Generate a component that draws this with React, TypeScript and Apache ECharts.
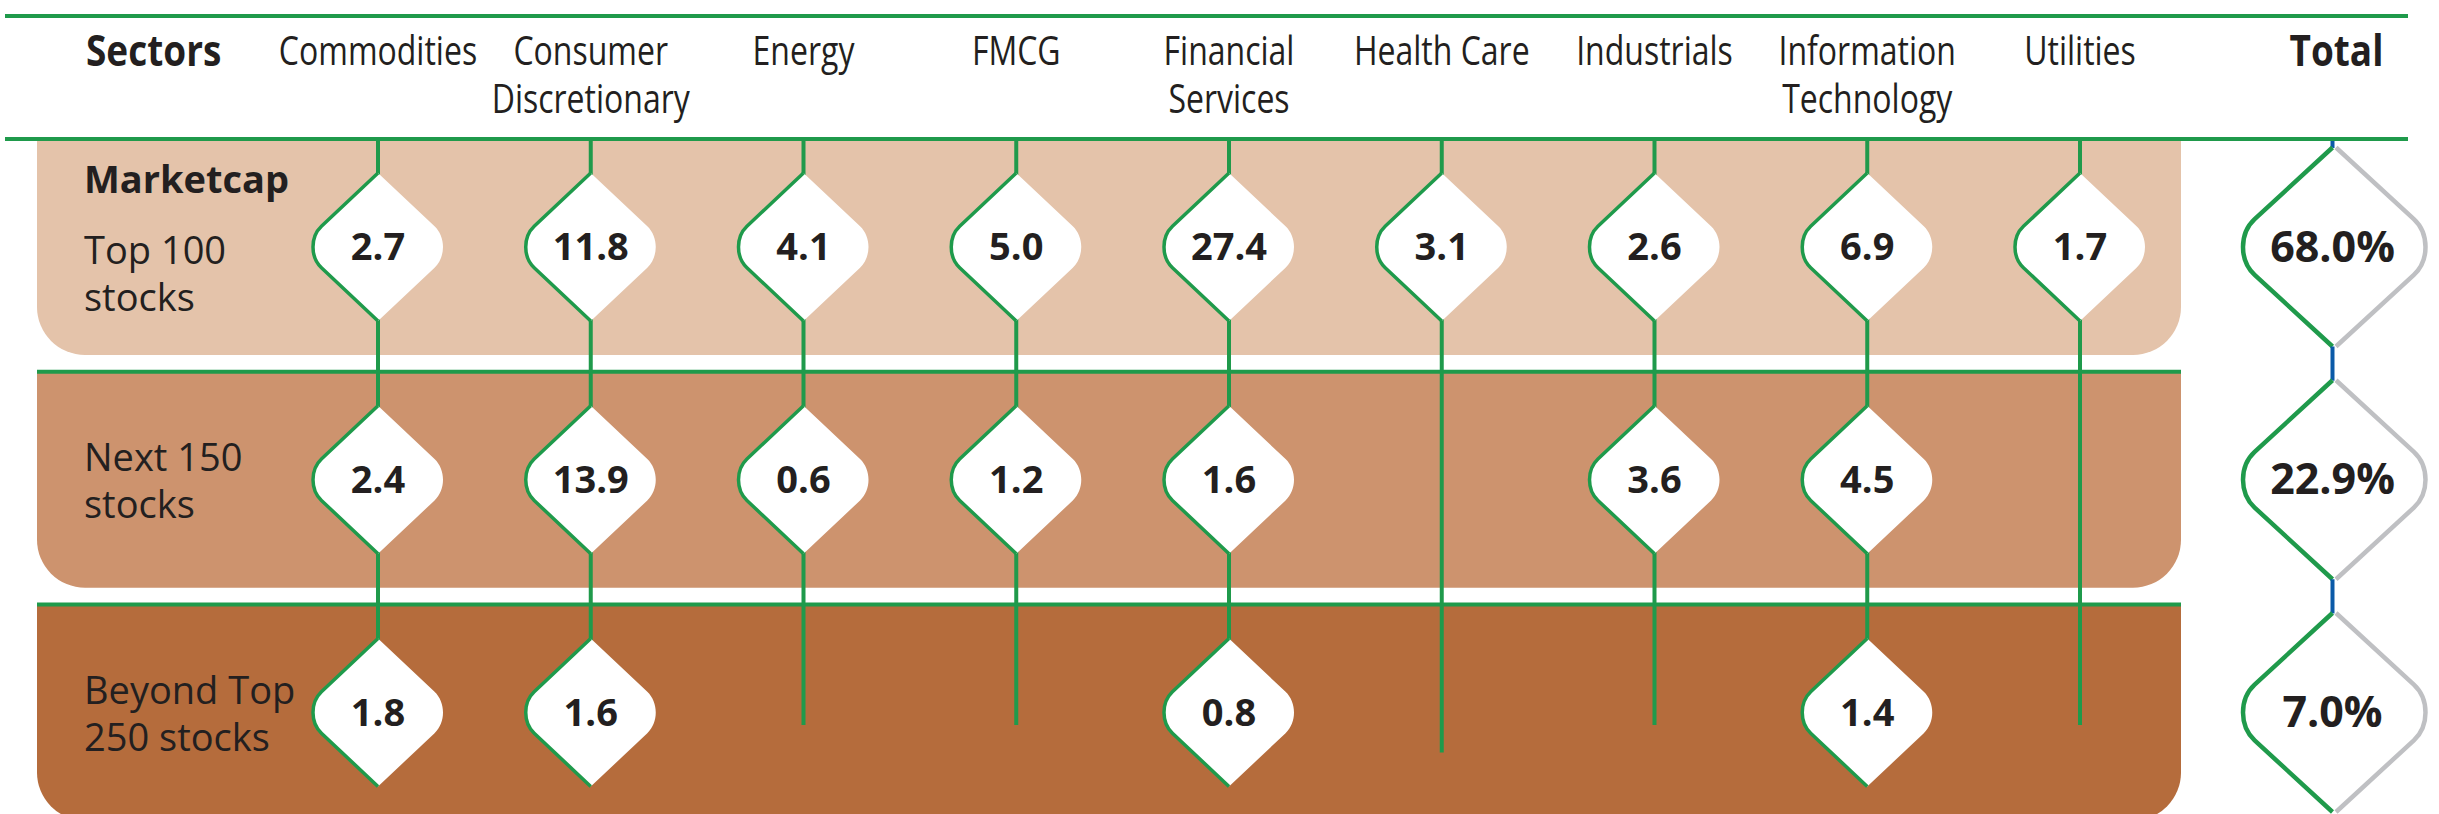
import React, { useEffect, useRef } from "react";
import * as echarts from "echarts";

// ---------- data ----------
const sectors = [
  "Commodities",
  "Consumer\nDiscretionary",
  "Energy",
  "FMCG",
  "Financial\nServices",
  "Health Care",
  "Industrials",
  "Information\nTechnology",
  "Utilities",
];
const rowNames = ["Top 100 stocks", "Next 150 stocks", "Beyond Top 250 stocks"];
const rowLabelLines = [
  ["Top 100", "stocks"],
  ["Next 150", "stocks"],
  ["Beyond Top", "250 stocks"],
];
const top100 = [2.7, 11.8, 4.1, 5.0, 27.4, 3.1, 2.6, 6.9, 1.7];
const next150 = [2.4, 13.9, 0.6, 1.2, 1.6, null, 3.6, 4.5, null];
const beyond250 = [1.8, 1.6, null, null, 0.8, null, null, 1.4, null];
const totals = [68.0, 22.9, 7.0];
const totalHeader = ["Total"];
const sectorsHeader = "Sectors";
const groupHeader = "Marketcap";

// ---------- layout / style ----------
const W = 2439;
const H = 814;
const GREEN = "#1f9a4b";
const BLUE = "#0b5aa8";
const GREY = "#bfc0c3";
const TEXT = "#231f20";
const BAND_COLORS = ["#e4c3aa", "#cd936e", "#b56c3c"];
const FONT = "'Open Sans', 'Liberation Sans', sans-serif";
const COND = 0.8; // horizontal squeeze for the condensed header face
const COL_FIRST = 378;
const COL_STEP = 212.75;
const ROW_FIRST = 247;
const ROW_STEP = 232.75;
const TOP_LINE_Y = 16;
const HEAD_LINE_Y = 139;
const HEAD_TEXT_TOP = 26;
const BAND_LEFT = 37;
const BAND_RIGHT = 2181;
const BAND_HALF = 108;
const TOTAL_X = 2334.5;

function diamondPaths(w: number, h: number) {
  const sx = 0.87 * w;
  const sy = 0.28 * h;
  const len = Math.hypot(sx, h - sy);
  const dx = sx / len;
  const dy = (h - sy) / len;
  const k = (w - sx) / (0.75 * dx);
  const cx = sx + dx * k;
  const cy = sy - dy * k;
  const left = `M0,${-h} L${-sx},${-sy} C${-cx},${-cy} ${-cx},${cy} ${-sx},${sy} L0,${h}`;
  const right = `M0,${-h} L${sx},${-sy} C${cx},${-cy} ${cx},${cy} ${sx},${sy} L0,${h}`;
  const full = `${left} L${sx},${sy} C${cx},${cy} ${cx},${-cy} ${sx},${-sy} Z`;
  return { left, right, full };
}

const SMALL = diamondPaths(65, 74);
const BIG = diamondPaths(89.5, 99.5);

export default function App() {
  const ref = useRef<HTMLDivElement>(null);

  useEffect(() => {
    if (!ref.current) return;
    const chart = echarts.init(ref.current, undefined, { renderer: "svg" });

    const rowsValues = [top100, next150, beyond250];
    const cellData: any[] = [];
    rowsValues.forEach((arr, r) =>
      arr.forEach((v, c) => {
        if (v != null) cellData.push([c, r, v]);
      })
    );

    const gridHeight = ROW_STEP * (rowNames.length - 1);

    const option: any = {
      animation: false,
      backgroundColor: "#ffffff",
      grid: [
        {
          left: COL_FIRST,
          top: ROW_FIRST,
          width: COL_STEP * (sectors.length - 1),
          height: gridHeight,
        },
        {
          left: TOTAL_X - 100,
          top: ROW_FIRST,
          width: 200,
          height: gridHeight,
        },
      ],
      xAxis: [
        {
          gridIndex: 0,
          type: "category",
          data: sectors,
          boundaryGap: false,
          position: "top",
          axisLine: { show: false },
          axisTick: { show: false },
          splitLine: { show: false },
          axisLabel: { show: false },
        },
        {
          gridIndex: 1,
          type: "category",
          data: totalHeader,
          position: "top",
          axisLine: { show: false },
          axisTick: { show: false },
          axisLabel: { show: false },
        },
      ],
      yAxis: [
        {
          gridIndex: 0,
          type: "category",
          data: rowNames,
          boundaryGap: false,
          inverse: true,
          z: 20,
          axisLine: { show: false },
          axisTick: { show: false },
          splitLine: { show: false },
          axisLabel: {
            interval: 0,
            align: "left",
            margin: COL_FIRST - 84,
            fontFamily: FONT,
            color: TEXT,
            formatter: (_v: string, i: number) => {
              const l = rowLabelLines[i];
              if (i === 0) {
                return `{h|${groupHeader}}\n{s| }\n{n|${l[0]}}\n{n|${l[1]}}\n{t| }`;
              }
              return `{n|${l[0]}}\n{n|${l[1]}}`;
            },
            rich: {
              h: { fontSize: 38, fontWeight: "bold", lineHeight: 47, fontFamily: FONT, color: TEXT },
              n: { fontSize: 38, lineHeight: 47, fontFamily: FONT, color: TEXT },
              s: { fontSize: 8, lineHeight: 24 },
              t: { fontSize: 8, lineHeight: 20 },
            },
          },
        },
        {
          gridIndex: 1,
          type: "category",
          data: rowNames,
          boundaryGap: false,
          inverse: true,
          axisLine: { show: false },
          axisTick: { show: false },
          axisLabel: { show: false },
        },
      ],
      graphic: [
        {
          type: "line",
          z: 10,
          shape: { x1: 5, y1: TOP_LINE_Y, x2: 2408, y2: TOP_LINE_Y },
          style: { stroke: GREEN, lineWidth: 4 },
        },
        {
          type: "line",
          z: 10,
          shape: { x1: 5, y1: HEAD_LINE_Y, x2: 2408, y2: HEAD_LINE_Y },
          style: { stroke: GREEN, lineWidth: 4 },
        },
        {
          type: "text",
          z: 10,
          x: 86,
          y: HEAD_TEXT_TOP - 1,
          scaleX: 0.86,
          style: {
            text: sectorsHeader,
            fontSize: 43,
            fontWeight: "bold",
            fontFamily: FONT,
            fill: TEXT,
            align: "left",
            verticalAlign: "top",
            lineHeight: 48,
          },
        },
      ],
      series: [
        // row bands
        {
          type: "custom",
          xAxisIndex: 0,
          yAxisIndex: 0,
          z: 1,
          silent: true,
          data: rowNames.map((_, r) => [0, r]),
          renderItem: (params: any, api: any) => {
            const r = api.value(1);
            const cy = api.coord([0, r])[1];
            const top = cy - BAND_HALF;
            const children: any[] = [
              {
                type: "rect",
                shape: {
                  x: BAND_LEFT,
                  y: top,
                  width: BAND_RIGHT - BAND_LEFT,
                  height: BAND_HALF * 2,
                  r: [0, 0, 48, 48],
                },
                style: { fill: BAND_COLORS[r] },
              },
            ];
            if (r > 0) {
              children.push({
                type: "line",
                shape: { x1: BAND_LEFT, y1: top, x2: BAND_RIGHT, y2: top },
                style: { stroke: GREEN, lineWidth: 4 },
              });
            }
            return { type: "group", children };
          },
        },
        // sector header labels
        {
          type: "custom",
          xAxisIndex: 0,
          yAxisIndex: 0,
          z: 5,
          silent: true,
          data: sectors.map((_, c) => [c, 0]),
          renderItem: (params: any, api: any) => {
            const c = api.value(0);
            const x = api.coord([c, 0])[0];
            return {
              type: "text",
              x,
              y: HEAD_TEXT_TOP,
              scaleX: COND,
              style: {
                text: sectors[c],
                fontSize: 40,
                fontFamily: FONT,
                fill: TEXT,
                align: "center",
                verticalAlign: "top",
                lineHeight: 48,
              },
            };
          },
        },
        // total header label
        {
          type: "custom",
          xAxisIndex: 1,
          yAxisIndex: 1,
          z: 5,
          silent: true,
          data: totalHeader.map((_, c) => [c, 0]),
          renderItem: (params: any, api: any) => {
            const c = api.value(0);
            const x = api.coord([c, 0])[0];
            return {
              type: "text",
              x: x + 2,
              y: HEAD_TEXT_TOP - 1,
              scaleX: 0.86,
              style: {
                text: totalHeader[c],
                fontSize: 43,
                fontWeight: "bold",
                fontFamily: FONT,
                fill: TEXT,
                align: "center",
                verticalAlign: "top",
                lineHeight: 48,
              },
            };
          },
        },
        // vertical sector lines
        {
          type: "custom",
          xAxisIndex: 0,
          yAxisIndex: 0,
          z: 2,
          silent: true,
          data: sectors.map((_, c) => [c, rowNames.length - 1]),
          renderItem: (params: any, api: any) => {
            const c = api.value(0);
            const p = api.coord([c, rowNames.length - 1]);
            let end = p[1];
            if (beyond250[c] == null) end += sectors[c] === "Health Care" ? 40 : 12.5;
            return {
              type: "line",
              shape: { x1: p[0], y1: HEAD_LINE_Y, x2: p[0], y2: end },
              style: { stroke: GREEN, lineWidth: 4 },
            };
          },
        },
        // sector diamonds
        {
          type: "custom",
          xAxisIndex: 0,
          yAxisIndex: 0,
          z: 3,
          silent: true,
          data: cellData,
          renderItem: (params: any, api: any) => {
            const p = api.coord([api.value(0), api.value(1)]);
            const v = api.value(2);
            return {
              type: "group",
              x: p[0],
              y: p[1],
              children: [
                { type: "path", shape: { pathData: SMALL.full }, style: { fill: "#ffffff", stroke: null } },
                {
                  type: "path",
                  shape: { pathData: SMALL.left },
                  style: { fill: null, stroke: GREEN, lineWidth: 3.5 },
                },
                {
                  type: "text",
                  x: 0,
                  y: -2,
                  style: {
                    text: Number(v).toFixed(1),
                    fontSize: 38,
                    fontWeight: "bold",
                    fontFamily: FONT,
                    fill: TEXT,
                    align: "center",
                    verticalAlign: "middle",
                  },
                },
              ],
            };
          },
        },
        // totals
        {
          type: "custom",
          xAxisIndex: 1,
          yAxisIndex: 1,
          z: 3,
          silent: true,
          data: totals.map((v, r) => [0, r, v]),
          renderItem: (params: any, api: any) => {
            const r = api.value(1);
            const p = api.coord([0, r]);
            const v = api.value(2);
            const startY = r === 0 ? HEAD_LINE_Y : api.coord([0, r - 1])[1] + 99.5;
            return {
              type: "group",
              children: [
                {
                  type: "line",
                  shape: { x1: p[0] - 2, y1: startY, x2: p[0] - 2, y2: p[1] - 99 },
                  style: { stroke: BLUE, lineWidth: 4 },
                },
                {
                  type: "group",
                  x: p[0] - 2,
                  y: p[1],
                  children: [
                    { type: "path", shape: { pathData: BIG.full }, style: { fill: "#ffffff", stroke: null } },
                    {
                      type: "path",
                      x: 3.5,
                      shape: { pathData: BIG.right },
                      style: { fill: null, stroke: GREY, lineWidth: 4.5 },
                    },
                    {
                      type: "path",
                      shape: { pathData: BIG.left },
                      style: { fill: null, stroke: GREEN, lineWidth: 4.5 },
                    },
                    {
                      type: "text",
                      x: 0,
                      y: -2,
                      style: {
                        text: Number(v).toFixed(1) + "%",
                        fontSize: 43,
                        fontWeight: "bold",
                        fontFamily: FONT,
                        fill: TEXT,
                        align: "center",
                        verticalAlign: "middle",
                      },
                    },
                  ],
                },
              ],
            };
          },
        },
      ],
    };

    chart.setOption(option);
    return () => chart.dispose();
  }, []);

  return (
    <div
      ref={ref}
      style={{ position: "absolute", left: 0, top: 0, width: W, height: H, background: "#fff" }}
    />
  );
}
